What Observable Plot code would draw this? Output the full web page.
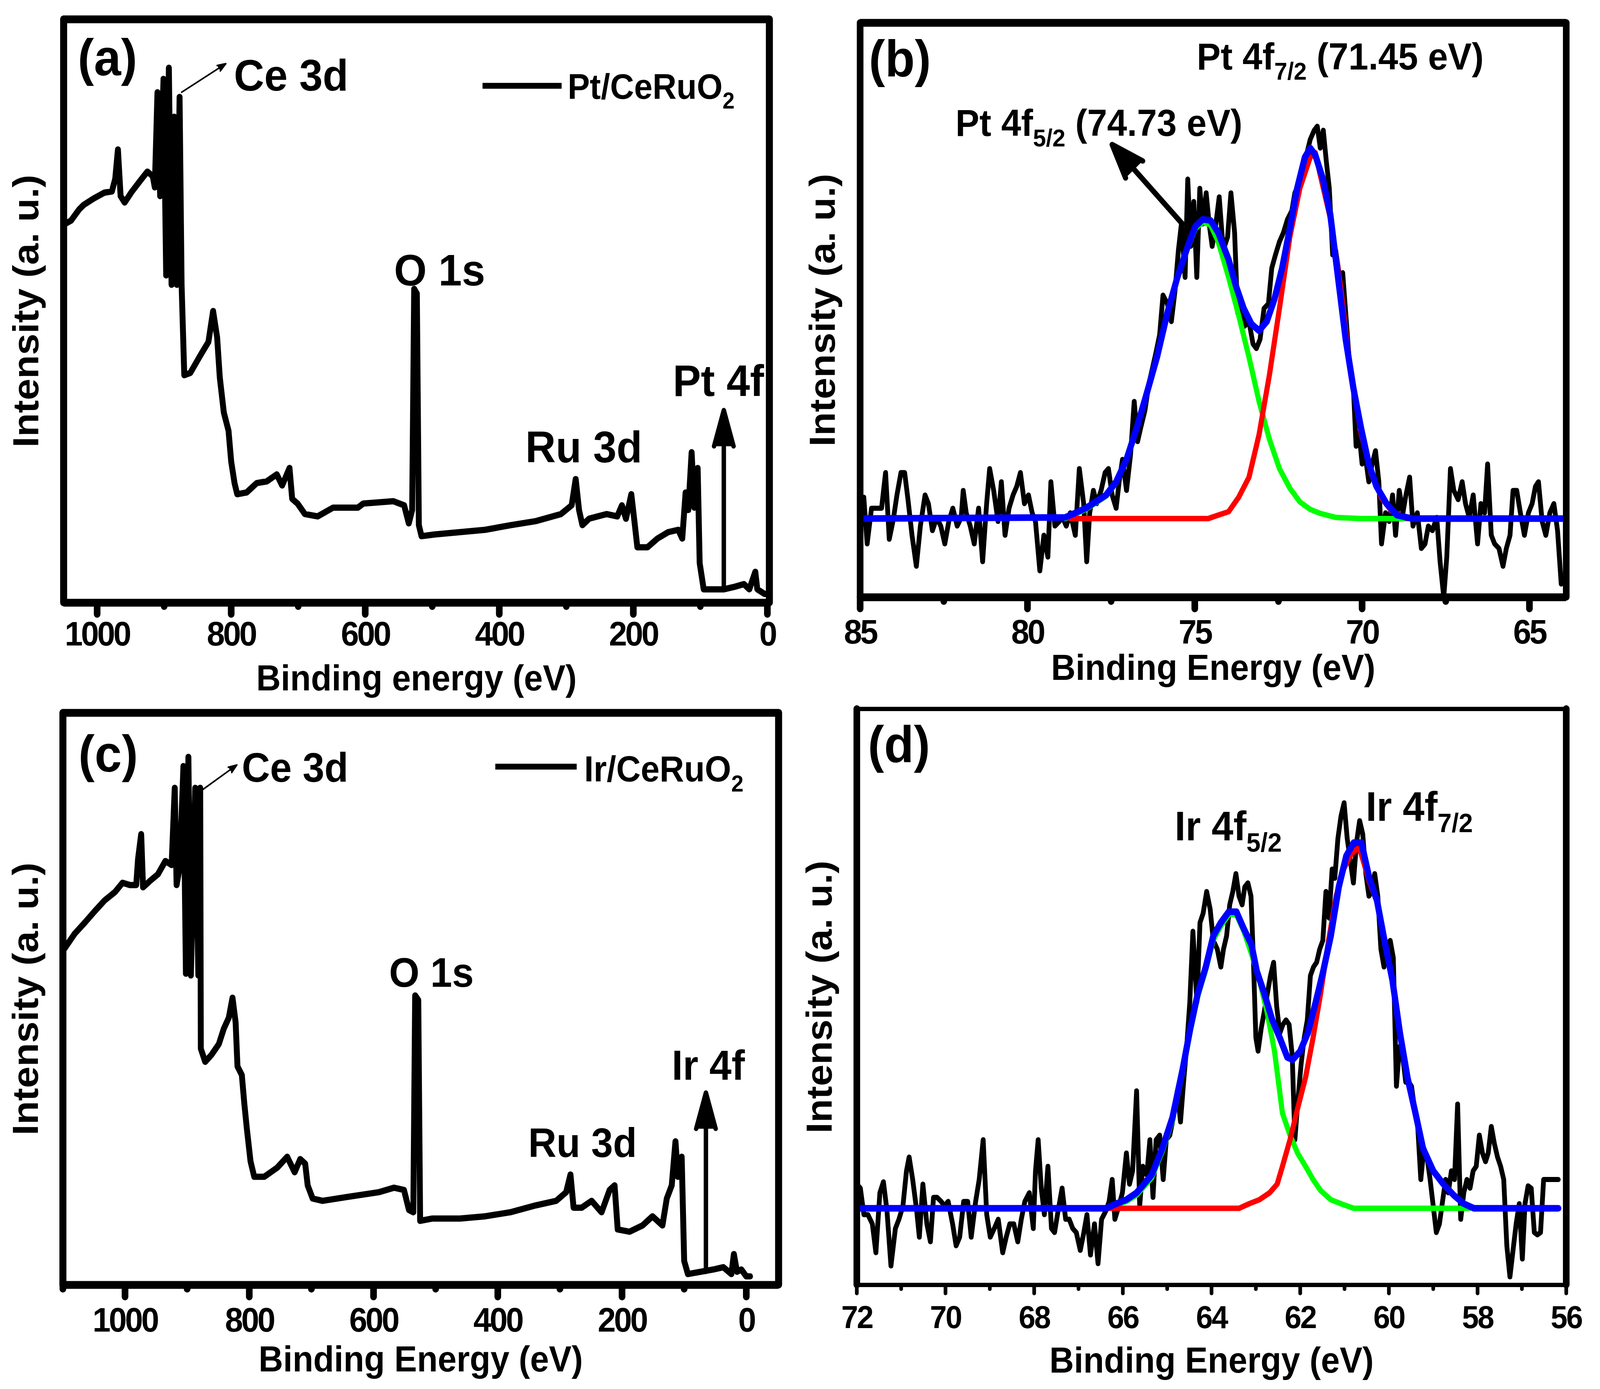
<!DOCTYPE html>
<html><head><meta charset="utf-8">
<script src="https://cdn.jsdelivr.net/npm/d3@7"></script>
<script src="https://cdn.jsdelivr.net/npm/@observablehq/plot@0.6"></script>
<style>
html,body{margin:0;padding:0;background:#fff;overflow:hidden;}
#page{position:relative;width:4337px;height:3557px;background:#fff;overflow:hidden;transform-origin:0 0;}
</style></head><body><div id="page"></div>
<script>
// ---------------- DATA ----------------
// (a) survey spectrum Pt/CeRuO2 : binding energy (eV) / intensity (a.u., 0-100 of frame)
const aE = [1050,1039,1027,1020,1005,989,978,973,969,965,959,948,936,925,917,914,910,906,901,897,893,889,885,881,877,874,870,861,846,834,827,821,817,811,804,800,795,791,777,762,747,732,724,713,709,701,690,671,648,611,603,558,542,535,530,527,523,520,516,497,459,421,383,345,308,292,286,281,276,266,240,224,217,211,203,198,194,179,164,148,133,127,122,118,113,109,104,101,95,65,50,35,27,18,15,4,-2];
const aV = [64.8,65.5,67.4,68.2,69.3,70.3,70.5,72.7,77.7,69.7,68.6,70.5,72.3,73.9,73.1,71.2,87.5,69.7,89.8,56.1,91.7,54.5,83.3,54.5,86.7,54.5,39.0,39.4,42.4,44.7,50.0,45.5,38.6,32.6,29.5,24.2,20.5,18.6,18.9,20.5,20.8,22.0,20.1,23.1,17.8,17.0,15.2,14.8,16.3,16.3,17.0,17.4,16.7,13.6,15.9,53.8,53.0,13.3,11.4,11.7,12.1,12.5,13.3,14.0,15.2,16.7,21.2,15.9,13.3,14.4,15.2,14.8,16.7,14.4,18.6,13.6,9.5,9.5,11.0,12.1,12.5,11.0,18.9,15.9,25.8,16.3,23.1,6.8,2.3,2.3,2.7,3.2,2.3,5.3,2.3,1.5,1.5];

// (c) survey spectrum Ir/CeRuO2
const cE = [1098,1081,1065,1049,1033,1016,1004,992,982,979,974,971,959,947,935,925,920,917,912,906,902,898,894,887,882,879,878,871,861,849,841,833,827,822,819,812,808,804,798,792,776,755,739,727,718,710,706,698,682,641,592,567,551,543,536,533,528,525,506,461,420,380,339,306,290,283,278,265,249,233,220,212,207,188,167,151,135,128,120,114,110,104,100,94,53,37,24,20,15,8,0,-6];
const cV = [58.7,61.4,63.3,65.3,67.2,68.7,70.3,69.9,69.9,74.5,78.8,69.5,70.7,71.8,74.1,73.4,86.9,69.9,73.0,90.7,54.4,92.3,54.1,86.9,54.1,86.9,41.3,39.0,40.2,42.1,44.8,46.7,50.2,45.9,38.2,36.7,31.7,27.4,21.6,18.9,18.9,20.5,22.4,19.7,22.0,21.2,17.4,15.1,14.7,15.4,16.2,17.0,16.6,13.1,12.7,50.6,49.8,11.2,11.6,11.6,12.0,12.7,13.9,14.7,16.2,19.3,13.5,13.5,14.7,12.7,16.6,17.4,9.7,9.3,10.4,12.0,10.4,15.1,17.4,25.1,18.9,22.4,4.2,1.9,2.7,3.1,1.9,5.4,2.3,2.7,1.5,1.5];

// (b) Pt 4f high resolution : raw data
const bE = [85.00,84.89,84.79,84.66,84.51,84.36,84.24,84.13,84.01,83.90,83.78,83.67,83.57,83.45,83.32,83.20,83.06,82.96,82.84,82.71,82.59,82.47,82.35,82.23,82.10,81.98,81.92,81.83,81.71,81.59,81.46,81.34,81.22,81.13,81.01,80.88,80.78,80.67,80.55,80.43,80.32,80.21,80.09,79.97,79.86,79.76,79.63,79.51,79.39,79.30,79.18,79.05,78.95,78.84,78.72,78.57,78.45,78.32,78.23,78.14,78.03,77.93,77.80,77.68,77.58,77.47,77.35,77.26,77.16,77.04,76.92,76.81,76.71,76.62,76.49,76.37,76.28,76.16,76.05,75.95,75.82,75.70,75.59,75.49,75.40,75.29,75.21,75.12,75.03,74.94,74.85,74.76,74.66,74.57,74.48,74.37,74.27,74.15,74.02,73.92,73.81,73.72,73.61,73.51,73.38,73.26,73.16,73.05,72.93,72.80,72.70,72.59,72.47,72.35,72.23,72.10,72.01,71.89,71.78,71.68,71.55,71.43,71.34,71.25,71.16,71.07,70.98,70.88,70.79,70.67,70.58,70.49,70.37,70.26,70.18,70.09,70.00,69.91,69.80,69.70,69.60,69.50,69.42,69.30,69.19,69.09,69.00,68.89,68.78,68.69,68.58,68.48,68.35,68.23,68.12,68.02,67.90,67.77,67.67,67.56,67.47,67.36,67.26,67.13,67.01,66.91,66.80,66.68,66.55,66.45,66.34,66.25,66.14,66.04,65.91,65.79,65.69,65.58,65.49,65.38,65.27,65.15,65.03,64.92,64.82,64.73,64.62,64.51,64.39,64.27,64.16,64.05];
const bV = [10.8,17.4,9.3,15.5,15.5,15.5,21.7,10.1,13.5,17.8,21.7,21.7,17.0,10.8,5.4,12.4,17.8,16.3,11.6,13.9,12.4,9.3,13.2,15.5,12.4,13.9,18.6,14.7,12.4,9.3,15.5,6.2,16.3,22.4,18.6,13.2,20.1,10.8,15.5,17.8,19.3,21.7,16.3,17.8,14.7,13.2,4.6,10.8,7.0,20.1,12.4,13.2,13.9,12.4,14.7,10.8,22.4,16.3,6.2,14.7,18.6,16.3,18.6,21.7,22.4,17.8,15.5,20.1,24.0,18.6,24.8,34.1,27.1,29.4,32.5,37.2,39.5,42.6,45.7,52.6,51.1,48.0,53.4,60.4,65.0,55.7,72.8,61.1,68.9,55.7,71.2,65.0,70.4,65.0,61.1,65.0,69.7,60.4,62.7,70.4,63.5,49.5,51.1,47.2,48.0,44.1,43.3,44.9,50.3,51.1,57.3,59.6,61.9,63.5,65.8,67.3,70.4,72.0,74.3,76.6,79.7,81.3,82.0,78.2,81.3,75.9,71.2,59.6,60.4,55.7,56.5,49.5,40.2,36.4,26.3,28.6,23.2,24.8,20.1,23.2,25.5,20.1,9.3,14.7,13.2,17.8,10.8,18.6,14.7,17.8,20.9,12.4,14.7,8.5,9.3,12.4,11.6,13.9,6.2,0.0,7.0,22.4,18.6,17.0,20.1,16.3,13.9,17.8,9.3,16.3,14.7,23.2,10.8,9.3,8.5,5.4,8.5,10.8,18.6,18.6,14.7,10.8,14.7,16.3,19.3,20.1,13.2,10.8,14.7,16.3,11.6,2.3];
// (b) fitted envelope (blue), Pt 4f5/2 component (green), Pt 4f7/2 component (red)
const bBlueE = [85.00,78.87,78.26,77.65,77.35,77.04,76.74,76.43,76.13,75.82,75.52,75.21,74.98,74.76,74.53,74.30,73.99,73.77,73.54,73.31,73.08,72.85,72.62,72.39,72.16,71.94,71.71,71.55,71.40,71.17,70.95,70.72,70.49,70.26,70.03,69.80,69.57,69.27,68.96,68.51,63.95];
const bBlueV = [13.7,13.9,15.5,17.8,20.1,24.0,29.4,35.6,41.8,49.5,55.7,61.1,64.6,65.8,65.6,63.5,58.8,54.2,50.3,47.6,46.4,48.0,51.9,57.3,64.2,71.2,76.6,78.2,77.0,72.8,66.6,55.7,44.9,36.4,29.4,23.2,19.3,16.3,14.3,13.7,13.7];
const bGreenE = [78.87,78.26,77.65,77.35,77.04,76.74,76.43,76.13,75.82,75.52,75.21,74.98,74.76,74.53,74.30,73.99,73.69,73.38,73.08,72.77,72.47,72.16,71.86,71.55,71.25,70.79,70.03,68.66];
const bGreenV = [13.7,15.3,17.6,19.9,23.8,29.2,35.4,41.6,49.3,55.5,60.8,64.2,65.3,64.8,61.9,55.7,49.1,41.8,34.1,27.5,22.4,19.0,16.6,15.3,14.6,13.9,13.7,13.7];
const bRedE = [78.72,74.60,74.30,73.99,73.69,73.38,73.08,72.77,72.47,72.16,71.86,71.55,71.40,71.25,70.95,70.64,70.34,70.03,69.73,69.42,69.12,68.66];
const bRedV = [13.7,13.7,14.3,14.9,17.4,20.9,28.3,38.7,50.3,62.7,71.2,76.6,77.4,73.5,66.0,54.0,39.0,28.5,21.5,17.3,15.0,13.7];

// (d) Ir 4f high resolution : raw data
const dE = [72.00,71.92,71.84,71.75,71.65,71.57,71.48,71.40,71.32,71.23,71.13,71.05,70.96,70.88,70.82,70.74,70.65,70.59,70.51,70.42,70.34,70.27,70.19,70.10,70.02,69.94,69.84,69.76,69.68,69.59,69.50,69.42,69.32,69.24,69.15,69.07,68.99,68.90,68.81,68.71,68.63,68.55,68.46,68.37,68.29,68.21,68.11,68.02,67.97,67.91,67.84,67.77,67.69,67.61,67.54,67.46,67.37,67.29,67.21,67.13,67.05,66.96,66.88,66.81,66.73,66.64,66.56,66.48,66.38,66.31,66.24,66.18,66.09,66.01,65.92,65.85,65.78,65.69,65.62,65.55,65.46,65.39,65.32,65.25,65.17,65.09,65.02,64.94,64.86,64.77,64.70,64.63,64.56,64.49,64.42,64.33,64.26,64.19,64.11,64.03,63.96,63.87,63.79,63.73,63.66,63.59,63.52,63.45,63.38,63.31,63.25,63.18,63.11,63.06,63.00,62.95,62.88,62.81,62.74,62.67,62.60,62.53,62.46,62.39,62.32,62.25,62.18,62.12,62.05,61.98,61.91,61.84,61.77,61.70,61.63,61.56,61.49,61.42,61.35,61.28,61.22,61.15,61.08,61.01,60.94,60.87,60.80,60.73,60.66,60.59,60.52,60.45,60.39,60.32,60.25,60.18,60.11,60.04,59.97,59.90,59.83,59.76,59.69,59.62,59.55,59.49,59.42,59.35,59.28,59.21,59.14,59.07,59.00,58.93,58.86,58.79,58.72,58.66,58.59,58.52,58.45,58.38,58.31,58.24,58.17,58.10,58.03,57.96,57.89,57.82,57.76,57.69,57.62,57.55,57.48,57.41,57.34,57.27,57.20,57.13,57.06,56.99,56.93,56.86,56.79,56.72,56.65,56.58,56.51,56.44,56.35,56.18];
const dV = [17.5,16.8,12.2,12.2,10.6,5.6,16.0,17.9,12.9,3.3,9.8,11.4,13.7,19.8,22.2,18.3,12.9,8.3,17.5,10.6,7.5,15.2,15.2,14.5,13.7,14.5,10.6,6.8,8.3,14.5,14.5,8.3,14.5,18.3,25.2,12.2,8.3,9.8,11.4,5.6,8.3,10.6,10.6,7.5,11.4,14.5,16.0,9.8,19.8,25.2,16.8,12.2,20.6,9.8,9.1,12.9,16.8,11.4,11.4,9.8,9.1,6.0,9.1,12.2,5.2,10.6,3.7,11.4,12.9,14.5,18.3,11.4,13.7,16.0,22.9,17.5,19.8,33.7,13.7,20.6,19.1,25.2,15.2,25.2,26.0,18.3,25.2,26.0,29.1,33.7,28.3,35.2,41.4,49.1,61.4,49.1,62.9,64.5,68.3,65.2,59.8,58.3,55.2,58.3,60.6,66.0,68.3,71.4,67.5,66.0,69.1,69.8,67.5,57.5,42.9,40.6,44.5,47.5,50.6,53.7,56.0,48.3,43.7,45.2,46.0,45.2,39.8,25.2,32.2,38.3,42.9,46.0,53.7,55.2,56.0,58.3,59.8,68.3,63.7,72.2,70.6,77.5,81.4,83.7,77.5,73.7,69.8,76.8,80.6,78.3,71.4,67.5,68.3,71.4,67.5,58.3,55.2,59.1,59.8,56.8,34.5,41.4,39.8,35.2,35.2,34.5,30.6,27.5,18.3,23.7,22.2,18.3,13.7,9.1,10.6,14.5,18.3,16.0,19.8,18.3,31.4,11.4,16.0,18.3,16.8,19.8,20.6,26.0,22.9,21.4,22.9,27.5,24.5,22.2,20.6,18.3,6.8,1.4,6.0,10.6,14.1,4.5,14.1,17.2,16.8,9.1,8.7,9.1,18.3,18.3,18.3,18.3];
// (d) fitted envelope (blue), Ir 4f5/2 component (green), Ir 4f7/2 component (red)
const dBlueE = [72.00,66.38,66.15,65.92,65.69,65.35,65.11,64.88,64.65,64.48,64.31,64.13,63.96,63.79,63.61,63.44,63.27,63.10,62.98,62.81,62.63,62.46,62.29,62.17,62.00,61.83,61.65,61.48,61.31,61.13,60.96,60.79,60.62,60.44,60.27,60.10,59.92,59.75,59.58,59.40,59.23,59.00,58.77,58.54,58.31,58.08,56.18];
const dBlueV = [13.3,13.3,14.1,14.8,16.0,19.1,23.7,29.1,37.5,44.5,50.6,55.2,60.6,62.9,64.8,64.8,61.8,59.1,54.5,50.6,46.0,42.9,39.5,39.1,40.6,43.7,49.1,54.5,60.6,69.1,74.5,76.8,76.8,70.6,66.8,59.8,52.9,43.7,36.0,29.8,23.7,19.8,17.5,15.6,14.1,13.3,13.3];
const dGreenE = [66.38,66.15,65.92,65.69,65.35,65.11,64.88,64.65,64.48,64.31,64.13,63.96,63.79,63.61,63.44,63.27,63.10,62.92,62.75,62.58,62.40,62.23,62.06,61.88,61.71,61.54,61.31,61.08,60.79,58.19];
const dGreenV = [13.3,13.9,14.5,15.6,18.6,23.2,28.6,37.0,44.0,50.1,54.7,59.9,62.3,64.3,64.3,61.4,57.5,52.9,47.5,40.6,29.8,26.0,22.9,20.6,18.3,16.4,14.8,14.1,13.3,13.3];
const dRedE = [66.38,63.38,63.15,62.92,62.69,62.52,62.40,62.23,62.06,61.88,61.71,61.54,61.36,61.19,61.02,60.85,60.67,60.44,60.27,60.10,59.92,59.75,59.58,59.40,59.23,59.00,58.77,58.54,58.31,58.08];
const dRedV = [13.3,13.3,14.1,14.8,16.0,17.5,20.6,25.2,30.6,36.0,42.9,50.6,59.8,67.5,72.2,74.8,76.0,70.0,66.5,59.6,52.8,43.6,36.0,29.8,23.7,19.8,17.5,15.6,14.1,13.3];

// tick values
const aMajor = [1000,800,600,400,200,0], aMinor = [900,700,500,300,100];
const cMajor = [1000,800,600,400,200,0], cMinor = [1100,900,700,500,300,100];
const bMajor = [85,80,75,70,65], bMinor = [82.5,77.5,72.5,67.5];
const dMajor = [72,70,68,66,64,62,60,58,56], dMinor = [71,69,67,65,63,61,59,57];

// ---------------- DRAWING ----------------
const FONT = "'Liberation Sans', Arial, Helvetica, sans-serif";
const RED = "#ff0000", GREEN = "#00ff00", BLUE = "#0000ff";

function ann(x, y, s, size) {
  return Plot.text([{x, y, s}], {x: "x", y: "y", text: "s", textAnchor: "start", lineAnchor: "middle", fontSize: size, fontWeight: "bold", fontFamily: FONT, fill: "black"});
}
function arrow(x1, y1, x2, y2, sw, hl, ha) {
  return Plot.arrow([{x1, y1, x2, y2}], {x1: "x1", y1: "y1", x2: "x2", y2: "y2", stroke: "black", fill: "black",
    strokeWidth: sw, headLength: hl, headAngle: ha, strokeLinejoin: "round", strokeLinecap: "round"});
}
function seg(x1, x2, y, sw) {
  return Plot.link([{x1, x2, y}], {x1: "x1", x2: "x2", y1: "y", y2: "y", stroke: "black", strokeWidth: sw, strokeLinecap: "butt"});
}
function curve(E, V, color, sw) {
  return Plot.line(E, {x: E, y: V, stroke: color, strokeWidth: sw, strokeLinejoin: "round", strokeLinecap: "round"});
}

function subscripts(svg) {
  svg.querySelectorAll("text").forEach(t => {
    const s = t.textContent;
    if (!s.includes("_{")) return;
    const parts = s.split(/(_\{[^}]*\})/);
    while (t.firstChild) t.removeChild(t.firstChild);
    let shifted = false;
    parts.forEach(p => {
      if (!p) return;
      const ts = document.createElementNS("http://www.w3.org/2000/svg", "tspan");
      if (p.startsWith("_{")) {
        ts.textContent = p.slice(2, -1);
        ts.setAttribute("font-size", "65%");
        ts.setAttribute("dy", "0.42em");
        shifted = true;
      } else {
        ts.textContent = p;
        if (shifted) { ts.setAttribute("dy", "-0.273em"); shifted = false; }
      }
      t.appendChild(ts);
    });
  });
}

function panel(p) {
  const [fl, fr, ft, fb] = p.frame;
  const svg = Plot.plot({
    width: p.w, height: p.h,
    marginLeft: fl - p.left, marginRight: p.left + p.w - fr,
    marginTop: ft - p.top, marginBottom: p.top + p.h - fb,
    x: {domain: p.xDomain},
    y: {domain: [0, 100], axis: null},
    style: {fontFamily: FONT, fontWeight: "bold", overflow: "visible", background: "transparent", color: "black"},
    marks: [
      ...p.marks,
      Plot.axisX({ticks: p.minor, tickSize: p.minorLen, strokeWidth: p.tickW, strokeLinecap: "round", tickFormat: () => "", label: null}),
      Plot.axisX({ticks: p.major, tickSize: p.majorLen, tickPadding: p.pad, strokeWidth: p.tickW, strokeLinecap: "round",
        tickFormat: d => String(d), fontSize: p.tickFont, fontWeight: "bold", fontFamily: FONT, label: null}),
      Plot.ruleY([0], {stroke: "black", strokeWidth: p.bw[1]}),
      Plot.ruleY([100], {stroke: "black", strokeWidth: p.bw[1]}),
      Plot.ruleX([p.xDomain[0], p.xDomain[1]], {stroke: "black", strokeWidth: p.bw[0], strokeLinecap: "round"}),
      Plot.text([p.ylab], {frameAnchor: "left", textAnchor: "middle", lineAnchor: "middle", rotate: -90, dx: -100, fontSize: 99, fontWeight: "bold", fontFamily: FONT}),
      Plot.text([p.xlab], {frameAnchor: "bottom", textAnchor: "middle", lineAnchor: "middle", dy: p.xlabOff, fontSize: 92, fontWeight: "bold", fontFamily: FONT}),
      ...p.texts
    ]
  });
  svg.style.position = "absolute";
  svg.style.left = p.left + "px";
  svg.style.top = p.top + "px";
  document.getElementById("page").appendChild(svg);
  subscripts(svg);
  svg.querySelectorAll('g[aria-label="x-axis tick label"] text').forEach(t => t.style.letterSpacing = p.tickLS + "px");
}

// (a)
panel({
  left: 0, top: 0, w: 2200, h: 1790, frame: [172, 2085, 49, 1543], xDomain: [1050, -3],
  major: aMajor, minor: aMinor, majorLen: 30, minorLen: 10, pad: 17, tickW: 18, tickFont: 88, tickLS: -5,
  bw: [19, 20], ylab: "Intensity (a. u.)", xlab: "Binding energy (eV)", xlabOff: 195,
  marks: [curve(aE, aV, "black", 16)],
  texts: [
    ann(1029, 93.2, "(a)", 132),
    ann(796, 90.2, "Ce 3d", 114),
    arrow(874, 87.5, 808, 92.4, 4, 9, 40),
    seg(425, 307, 88.6, 15),
    ann(298, 88.3, "Pt/CeRuO_{2}", 90),
    ann(557, 56.8, "O 1s", 114),
    ann(361, 26.5, "Ru 3d", 114),
    ann(141, 37.9, "Pt 4f", 114),
    arrow(65, 2.5, 65, 33, 12, 12, 32)
  ]
});

// (b)
panel({
  left: 2150, top: 0, w: 2187, h: 1790, frame: [2331, 4245, 58, 1529], xDomain: [85, 63.9],
  major: bMajor, minor: bMinor, majorLen: 30, minorLen: 11, pad: 26, tickW: 18, tickFont: 88, tickLS: -5,
  bw: [18, 20], ylab: "Intensity (a. u.)", xlab: "Binding Energy (eV)", xlabOff: 182,
  marks: [
    curve(bE, bV, "black", 13),
    curve(bGreenE, bGreenV, GREEN, 14),
    curve(bRedE, bRedV, RED, 14),
    curve(bBlueE, bBlueV, BLUE, 17)
  ],
  texts: [
    ann(84.74, 93.5, "(b)", 132),
    ann(74.94, 94.0, "Pt 4f_{7/2} (71.45 eV)", 97),
    ann(82.15, 82.4, "Pt 4f_{5/2} (74.73 eV)", 97),
    arrow(75.37, 65.0, 77.47, 78.8, 14, 10, 40)
  ]
});

// (c)
panel({
  left: 0, top: 1790, w: 2200, h: 1767, frame: [170, 2110, 1825, 3290], xDomain: [1100, -52],
  major: cMajor, minor: cMinor, majorLen: 31, minorLen: 11, pad: 26, tickW: 18, tickFont: 88, tickLS: -5,
  bw: [19, 20], ylab: "Intensity (a. u.)", xlab: "Binding Energy (eV)", xlabOff: 192,
  marks: [curve(cE, cV, "black", 16)],
  texts: [
    ann(1075, 92.6, "(c)", 132),
    ann(812, 90.3, "Ce 3d", 106),
    arrow(876, 86.5, 820, 90.9, 4, 9, 40),
    seg(404, 273, 90.6, 15),
    ann(261, 90.0, "Ir/CeRuO_{2}", 92),
    ann(575, 54.4, "O 1s", 106),
    ann(351, 24.7, "Ru 3d", 106),
    ann(120, 38.2, "Ir 4f", 108),
    arrow(65, 2.3, 65, 33.6, 12, 12, 32)
  ]
});

// (d)
panel({
  left: 2150, top: 1790, w: 2187, h: 1767, frame: [2322, 4245, 1815, 3290], xDomain: [72, 56],
  major: dMajor, minor: dMinor, majorLen: 22, minorLen: 11, pad: 30, tickW: 10, tickFont: 82, tickLS: -3.5,
  bw: [18, 11], ylab: "Intensity (a. u.)", xlab: "Binding Energy (eV)", xlabOff: 195,
  marks: [
    curve(dE, dV, "black", 13),
    curve(dGreenE, dGreenV, GREEN, 14),
    curve(dRedE, dRedV, RED, 14),
    curve(dBlueE, dBlueV, BLUE, 17)
  ],
  texts: [
    ann(71.75, 93.6, "(d)", 132),
    ann(64.83, 79.5, "Ir 4f_{5/2}", 106),
    ann(60.52, 82.9, "Ir 4f_{7/2}", 106)
  ]
});

// fit the 4337x3557 layout into whatever viewport the page is opened in
(function fit() {
  const de = document.documentElement;
  const vw = de.clientWidth || window.innerWidth, vh = de.clientHeight || window.innerHeight;
  const sx = vw / 4337, sy = vh / 3557;
  if (Math.abs(sx - 1) > 0.001 || Math.abs(sy - 1) > 0.001) {
    document.getElementById("page").style.transform = `scale(${sx}, ${sy})`;
  }
})();
</script></body></html>
